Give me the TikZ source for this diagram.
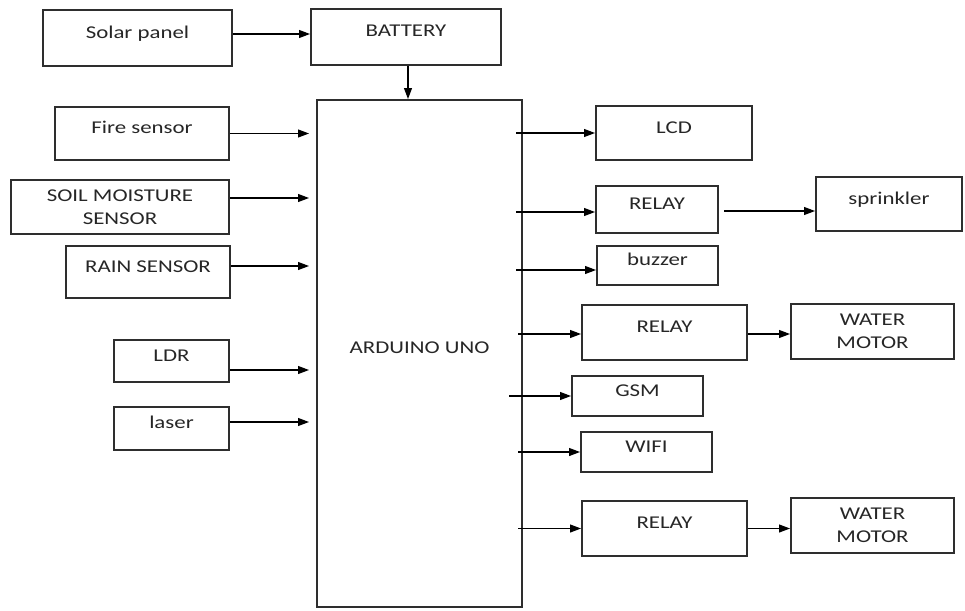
\documentclass[tikz,border=0pt]{standalone}
\usepackage{fontspec}
\setmainfont{Carlito}[FakeStretch=1.27]
\usetikzlibrary{arrows.meta}
\definecolor{ink}{HTML}{262626}
\definecolor{edge}{HTML}{2E2E2E}
\begin{document}
\begin{tikzpicture}[x=1pt,y=-1pt,
  blk/.style 2 args={draw=edge, line width=2pt, inner sep=0pt, minimum width=#1, minimum height=#2,
     text=ink, font=\fontsize{18}{23}\selectfont, text height=6pt, text depth=6pt},
  blk2/.style 2 args={draw=edge, line width=2pt, inner sep=0pt, minimum width=#1, minimum height=#2,
     text=ink, font=\fontsize{18}{23}\selectfont, align=center},
  arr/.style={draw=black, line width=1.1pt, -{Triangle[length=11pt,width=8pt]}},
]
\useasboundingbox (0,0) rectangle (965,610);
% inputs
\node[blk={189}{56}] (solar) at (137.5,38) {Solar panel};
\node[blk={190}{56}] (bat) at (406,37) {BATTERY};
\node[blk={174}{53}] (fire) at (142,133.5) {Fire sensor};
\node[blk2={218}{54}] (soil) at (120,207) {SOIL MOISTURE\\SENSOR};
\node[blk={164}{52}] (rain) at (148,272) {RAIN SENSOR};
\node[blk={115}{42}] (ldr) at (171.5,361) {LDR};
\node[blk={115}{43}] (laser) at (171.5,428.5) {laser};
% controller
\node[blk={205}{507}] (ard) at (419.5,353.5) {ARDUINO UNO};
% outputs
\node[blk={156}{54}] (lcd) at (674,133) {LCD};
\node[blk={122}{47}] (rel1) at (657,209.5) {RELAY};
\node[blk={146}{54}] (spr) at (889,204) {sprinkler};
\node[blk={121}{39}] (buz) at (657.5,265.5) {buzzer};
\node[blk={165}{55}] (rel2) at (664.5,332.5) {RELAY};
\node[blk2={163}{55}] (mot1) at (872.5,331.5) {WATER\\MOTOR};
\node[blk={131}{40}] (gsm) at (637.5,396) {GSM};
\node[blk={131}{40}] (wifi) at (646.5,452) {WIFI};
\node[blk={165}{55}] (rel3) at (664.5,528.5) {RELAY};
\node[blk2={163}{55}] (mot2) at (872.5,525.5) {WATER\\MOTOR};
% power
\draw[arr] ([yshift=4pt]solar.east) -- ([yshift=4pt]solar.east -| bat.west);
\draw[arr] ([xshift=2pt]bat.south) -- ([xshift=2pt]bat.south |- ard.north);
% inputs to arduino
\draw[arr, shorten >=7pt] (fire.east) -- (fire.east -| ard.west);
\draw[arr, shorten >=7pt] ([yshift=9pt]soil.east) -- ([yshift=9pt]soil.east -| ard.west);
\draw[arr, shorten >=7pt] ([yshift=6pt]rain.east) -- ([yshift=6pt]rain.east -| ard.west);
\draw[arr, shorten >=7pt] ([yshift=-9pt]ldr.east) -- ([yshift=-9pt]ldr.east -| ard.west);
\draw[arr, shorten >=7pt] ([yshift=6.5pt]laser.east) -- ([yshift=6.5pt]laser.east -| ard.west);
% arduino to outputs
\draw[arr] ([xshift=-7pt]ard.east |- lcd.west) -- (lcd.west);
\draw[arr] ([xshift=-7pt,yshift=-2.5pt]ard.east |- rel1.west) -- ([yshift=-2.5pt]rel1.west);
\draw[arr] ([xshift=-7pt,yshift=-4.5pt]ard.east |- buz.west) -- ([yshift=-4.5pt]buz.west);
\draw[arr] ([xshift=-5pt,yshift=-1.5pt]ard.east |- rel2.west) -- ([yshift=-1.5pt]rel2.west);
\draw[arr] ([xshift=-14pt]ard.east |- gsm.west) -- (gsm.west);
\draw[arr] ([xshift=-5pt]ard.east |- wifi.west) -- (wifi.west);
\draw[arr] ([xshift=-5pt]ard.east |- rel3.west) -- (rel3.west);
% relays to loads
\draw[arr] ([xshift=5pt,yshift=-1.5pt]rel1.east) -- ([yshift=-1.5pt]rel1.east -| spr.west);
\draw[arr] ([yshift=-1.5pt]rel2.east) -- ([yshift=-1.5pt]rel2.east -| mot1.west);
\draw[arr] (rel3.east) -- (rel3.east -| mot2.west);
\end{tikzpicture}
\end{document}
